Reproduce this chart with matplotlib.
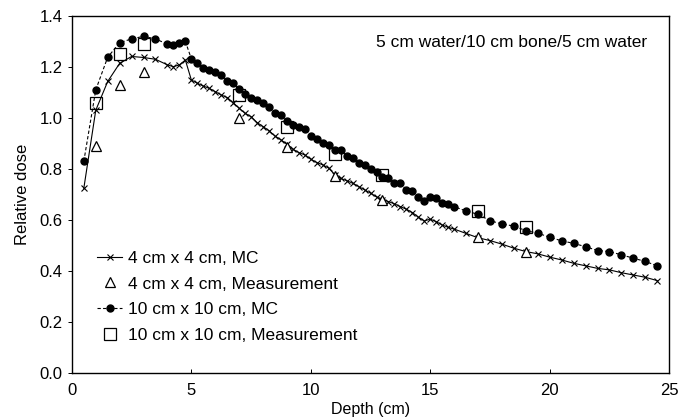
import matplotlib
matplotlib.use("Agg")
import matplotlib.pyplot as plt

plt.rcParams['font.family'] = ['Liberation Sans', 'DejaVu Sans']

depth_mc = [0.5, 1.0, 1.5, 2.0, 2.5, 3.0, 3.5, 4.0, 4.25, 4.5, 4.75,
            5.0, 5.25, 5.5, 5.75, 6.0, 6.25, 6.5, 6.75, 7.0, 7.25, 7.5, 7.75,
            8.0, 8.25, 8.5, 8.75, 9.0, 9.25, 9.5, 9.75, 10.0, 10.25, 10.5, 10.75,
            11.0, 11.25, 11.5, 11.75, 12.0, 12.25, 12.5, 12.75, 13.0, 13.25, 13.5, 13.75,
            14.0, 14.25, 14.5, 14.75, 15.0, 15.25, 15.5, 15.75, 16.0,
            16.5, 17.0, 17.5, 18.0, 18.5, 19.0, 19.5, 20.0, 20.5, 21.0, 21.5,
            22.0, 22.5, 23.0, 23.5, 24.0, 24.5]

dose_10_mc = [0.83, 1.11, 1.238, 1.295, 1.31, 1.32, 1.31, 1.289, 1.286, 1.295, 1.30,
              1.232, 1.214, 1.195, 1.188, 1.182, 1.169, 1.146, 1.138, 1.112, 1.093, 1.080, 1.072,
              1.058, 1.042, 1.02, 1.01, 0.988, 0.973, 0.963, 0.955, 0.929, 0.916, 0.903, 0.894,
              0.873, 0.875, 0.851, 0.842, 0.825, 0.816, 0.799, 0.789, 0.770, 0.763, 0.746, 0.744,
              0.718, 0.715, 0.691, 0.676, 0.689, 0.685, 0.668, 0.663, 0.652,
              0.635, 0.622, 0.597, 0.584, 0.576, 0.558, 0.548, 0.532, 0.518, 0.508, 0.495,
              0.480, 0.476, 0.463, 0.450, 0.437, 0.42]

dose_4_mc = [0.724, 1.03, 1.143, 1.214, 1.241, 1.237, 1.23, 1.208, 1.201, 1.208, 1.227,
             1.149, 1.136, 1.125, 1.116, 1.103, 1.09, 1.08, 1.06, 1.038, 1.018, 1.005, 0.982,
             0.966, 0.95, 0.929, 0.914, 0.897, 0.877, 0.864, 0.855, 0.838, 0.825, 0.816, 0.803,
             0.778, 0.763, 0.754, 0.744, 0.731, 0.718, 0.705, 0.69, 0.68, 0.672, 0.663, 0.652,
             0.642, 0.629, 0.611, 0.596, 0.603, 0.593, 0.580, 0.571, 0.564,
             0.547, 0.53, 0.519, 0.505, 0.489, 0.476, 0.467, 0.454, 0.443, 0.430, 0.42,
             0.41, 0.404, 0.393, 0.384, 0.375, 0.362]

depth_meas = [1, 2, 3, 7, 9, 11, 13, 17, 19]
dose_4_meas = [0.89, 1.13, 1.18, 1.0, 0.885, 0.773, 0.68, 0.532, 0.476]
dose_10_meas = [1.058, 1.25, 1.288, 1.09, 0.966, 0.857, 0.778, 0.636, 0.574]

labels = ["4 cm x 4 cm, MC", "4 cm x 4 cm, Measurement",
          "10 cm x 10 cm, MC", "10 cm x 10 cm, Measurement"]

fig = plt.figure(figsize=(6.78, 4.19), dpi=100)
ax = fig.add_axes([0.106, 0.110, 0.881, 0.852])

ax.plot(depth_mc, dose_4_mc, color='black', lw=0.8, ls='-', marker='x',
        ms=5, mew=0.8, label=labels[0])
ax.plot(depth_meas, dose_4_meas, ls='none', marker='^', ms=7, mfc='white',
        mec='black', mew=0.9, label=labels[1])
ax.plot(depth_mc, dose_10_mc, color='black', lw=0.8, ls=(0, (3, 2)), marker='o',
        ms=5, label=labels[2])
ax.plot(depth_meas, dose_10_meas, ls='none', marker='s', ms=8, mfc='none',
        mec='black', mew=0.9, label=labels[3])

ax.set_xlim(0, 25)
ax.set_ylim(0, 1.4)
ax.set_xticks([0, 5, 10, 15, 20, 25])
ax.set_yticks([0.0, 0.2, 0.4, 0.6, 0.8, 1.0, 1.2, 1.4])
ax.set_yticklabels(["0.0", "0.2", "0.4", "0.6", "0.8", "1.0", "1.2", "1.4"])
ax.tick_params(axis='both', labelsize=12, length=3, width=0.7)
ax.tick_params(axis='x', direction='in', pad=7)
for s in ax.spines.values():
    s.set_linewidth(1.0)

ax.set_xlabel("Depth (cm)", fontsize=11.5, labelpad=3)
ax.set_ylabel("Relative dose", fontsize=12, labelpad=7)

ax.text(0.963, 0.925, "5 cm water/10 cm bone/5 cm water", transform=ax.transAxes,
        ha='right', va='center', fontsize=12.5)

leg = ax.legend(loc='upper left', bbox_to_anchor=(0.042, 0.342), frameon=False,
                fontsize=12.5, handlelength=1.45, handletextpad=0.35, labelspacing=0.6,
                borderaxespad=0, borderpad=0)

fig.savefig("out.png", dpi=100)
